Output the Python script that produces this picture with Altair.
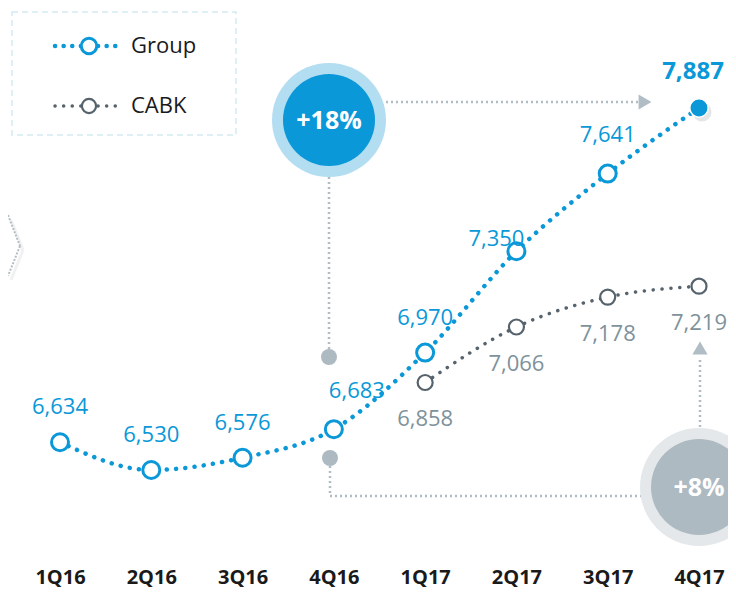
import altair as alt
import pandas as pd

# ---------------- data ----------------
quarters = ["1Q16", "2Q16", "3Q16", "4Q16", "1Q17", "2Q17", "3Q17", "4Q17"]
group_vals = [6634, 6530, 6576, 6683, 6970, 7350, 7641, 7887]
cabk_quarters = ["1Q17", "2Q17", "3Q17", "4Q17"]
cabk_vals = [6858, 7066, 7178, 7219]
series_names = ["Group", "CABK"]
growth_labels = ["+18%", "+8%"]

# ---------------- styles ----------------
BLUE = "#0a98d8"
BLUE_LIGHT = "#b3ddf1"
DARK = "#56636c"
CABK_TXT = "#7e929b"
GREY = "#b0bdc4"
GREY_OUT = "#e4e8ea"
GREY_IN = "#adbac1"
FONT = "Open Sans"

df_g = pd.DataFrame({"q": quarters, "v": group_vals})
df_c = pd.DataFrame({"q": cabk_quarters, "v": cabk_vals})

X = alt.X(
    "q:O",
    scale=alt.Scale(domain=quarters, range=[52, 691], padding=0),
    axis=alt.Axis(
        title=None, labelAngle=0, labelFont=FONT, labelFontWeight="bold",
        labelFontSize=20, labelColor="#1a1a1a", domain=False, ticks=False,
        tickSize=0, labelPadding=9, labelBaseline="middle", grid=False,
    ),
)
Y = alt.Y("v:Q", scale=alt.Scale(domain=[6000, 8000], range=[603.4, 69.8]), axis=None)

bg = alt.Chart(df_g).encode(x=X, y=Y)
bc = alt.Chart(df_c).encode(x=X, y=Y)
one = alt.Data(values=[{"a": 1}])


def rule(x, y, x2, y2, color=GREY, width=2.5, dash=(2, 3), opacity=1.0):
    return alt.Chart(one).mark_rule(
        color=color, strokeWidth=width, strokeDash=list(dash), opacity=opacity
    ).encode(x=alt.value(x), y=alt.value(y), x2=alt.value(x2), y2=alt.value(y2))


def disc(x, y, size, color):
    return alt.Chart(one).mark_circle(color=color, size=size, opacity=1).encode(
        x=alt.value(x), y=alt.value(y)
    )


def label(x, y, txt, size, color, weight="normal", align="center"):
    return alt.Chart(one).mark_text(
        text=txt, font=FONT, fontSize=size, color=color, fontWeight=weight,
        align=align, baseline="middle",
    ).encode(x=alt.value(x), y=alt.value(y))


layers = []

# legend box
layers.append(
    alt.Chart(one).mark_rect(
        fill="white", fillOpacity=0, stroke="#d3eaf4", strokeWidth=1.5, strokeDash=[6, 4]
    ).encode(x=alt.value(4), x2=alt.value(228), y=alt.value(4), y2=alt.value(127))
)
layers.append(rule(47, 38, 109, 38).mark_rule(
    color=BLUE, strokeWidth=4.5, strokeDash=[0.1, 8.5], strokeCap="round"))
layers.append(alt.Chart(one).mark_circle(fill="white", stroke=BLUE, strokeWidth=3, size=240, opacity=1)
              .encode(x=alt.value(81), y=alt.value(38)))
layers.append(label(123, 38, series_names[0], 22, "#1a1a1a", align="left"))
layers.append(rule(47, 98, 109, 98).mark_rule(
    color=DARK, strokeWidth=3.5, strokeDash=[0.1, 8.5], strokeCap="round"))
layers.append(alt.Chart(one).mark_circle(fill="white", stroke=DARK, strokeWidth=2.2, size=200, opacity=1)
              .encode(x=alt.value(81), y=alt.value(98)))
layers.append(label(123, 98, series_names[1], 22, "#1a1a1a", align="left"))

# chevron on the left edge (with soft shadow)
layers.append(rule(3, 212, 15, 242, color="#888888", width=3, dash=(1, 0), opacity=0.12))
layers.append(rule(15, 242, 3, 272, color="#888888", width=3, dash=(1, 0), opacity=0.12))
layers.append(rule(0, 207, 12, 238, color=GREY, width=2, dash=(2, 1.5)))
layers.append(rule(12, 238, 0, 268, color=GREY, width=2, dash=(2, 1.5)))

# connectors for +18%
layers.append(rule(378, 94, 630, 94))
layers.append(alt.Chart(one).mark_point(shape="triangle-right", filled=True, color=GREY, size=220, opacity=1)
              .encode(x=alt.value(637), y=alt.value(94)))
layers.append(rule(321, 169, 321, 341))
layers.append(disc(321, 349, 256, GREY_IN))
layers.append(disc(322, 450, 256, GREY_IN))
layers.append(rule(322, 458, 322, 488))
layers.append(rule(322, 488, 645, 488))
# connector for +8%
layers.append(rule(692, 352, 692, 425))
layers.append(alt.Chart(one).mark_point(shape="triangle-up", filled=True, color=GREY, size=230, opacity=1)
              .encode(x=alt.value(692), y=alt.value(340)))

# growth bubbles
layers.append(disc(321, 112, 12996, BLUE_LIGHT))
layers.append(disc(321, 112, 8464, BLUE))
layers.append(label(321, 113, growth_labels[0], 25, "white", weight="bold"))
layers.append(disc(691, 479, 13924, GREY_OUT))
layers.append(disc(691, 479, 9216, GREY_IN))
layers.append(label(691, 480, growth_labels[1], 25, "white", weight="bold"))

# CABK series
layers.append(bc.mark_line(color=DARK, strokeWidth=3.5, strokeDash=[0.1, 8.8], strokeCap="round",
                           interpolate="monotone"))
layers.append(bc.mark_circle(fill="white", stroke=DARK, strokeWidth=2.2, size=225, opacity=1))
layers.append(bc.mark_text(font=FONT, fontSize=22, color=CABK_TXT, dy=37)
              .encode(text=alt.Text("v:Q", format=",")))

# Group series
layers.append(bg.mark_line(color=BLUE, strokeWidth=4.5, strokeDash=[0.1, 9.2], strokeCap="round",
                           interpolate="monotone"))
last_q = quarters[-1]
layers.append(bg.transform_filter(alt.datum.q != last_q)
              .mark_circle(fill="white", stroke=BLUE, strokeWidth=3, size=289, opacity=1))
layers.append(bg.transform_filter(alt.datum.q == last_q)
              .mark_circle(color="#777777", size=360, opacity=0.18, xOffset=3, yOffset=4))
layers.append(bg.transform_filter(alt.datum.q == last_q)
              .mark_circle(fill=BLUE, stroke="white", strokeWidth=1.5, size=340, opacity=1))

txt_g = alt.Text("v:Q", format=",")
std = ["1Q16", "2Q16", "3Q16", "1Q17"]
layers.append(bg.transform_filter(alt.FieldOneOfPredicate(field="q", oneOf=std))
              .mark_text(font=FONT, fontSize=22, color=BLUE, dy=-35).encode(text=txt_g))
layers.append(bg.transform_filter(alt.datum.q == "4Q16")
              .mark_text(font=FONT, fontSize=22, color=BLUE, dx=23, dy=-38).encode(text=txt_g))
layers.append(bg.transform_filter(alt.datum.q == "2Q17")
              .mark_text(font=FONT, fontSize=22, color=BLUE, dx=-20, dy=-12).encode(text=txt_g))
layers.append(bg.transform_filter(alt.datum.q == "3Q17")
              .mark_text(font=FONT, fontSize=22, color=BLUE, dy=-39).encode(text=txt_g))
layers.append(bg.transform_filter(alt.datum.q == last_q)
              .mark_text(font=FONT, fontSize=24, fontWeight="bold", color=BLUE, dx=-6, dy=-36).encode(text=txt_g))

chart = alt.layer(*layers).properties(
    width=720,
    height=560,
    autosize=alt.AutoSizeParams(type="none"),
    padding={"left": 0, "top": 0, "right": 0, "bottom": 22},
).configure_view(strokeWidth=0)

chart.save("out.html", embed_options={"renderer": "svg", "actions": False})
